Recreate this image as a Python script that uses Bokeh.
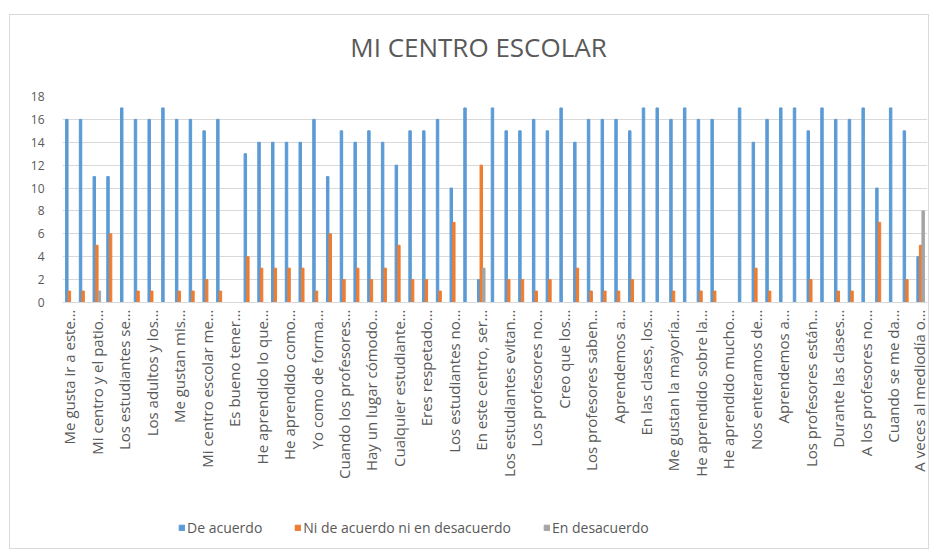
from math import pi
from bokeh.plotting import figure
from bokeh.layouts import column
from bokeh.models import (ColumnDataSource, FixedTicker, Legend, LegendItem,
                          Range1d, Label)
from bokeh.transform import dodge
from bokeh.embed import file_html
from bokeh.resources import INLINE

# 63 survey statements; only every other one is labelled on the axis
question_index = list(range(1, 64))
label_index = list(range(1, 64, 2))
shown_labels = [
    "Me gusta ir a este…", "Mi centro y el patio…", "Los estudiantes se…",
    "Los adultos y los…", "Me gustan mis…", "Mi centro escolar me…",
    "Es bueno tener…", "He aprendido lo que…", "He aprendido como…",
    "Yo como de forma…", "Cuando los profesores…", "Hay un lugar cómodo…",
    "Cualquier estudiante…", "Eres respetado…", "Los estudiantes no…",
    "En este centro, ser…", "Los estudiantes evitan…", "Los profesores no…",
    "Creo que los…", "Los profesores saben…", "Aprendemos a…",
    "En las clases, los…", "Me gustan la mayoría…", "He aprendido sobre la…",
    "He aprendido mucho…", "Nos enteramos de…", "Aprendemos a…",
    "Los profesores están…", "Durante las clases…", "A los profesores no…",
    "Cuando se me da…", "A veces al mediodía o…",
]

de_acuerdo = [16, 16, 11, 11, 17, 16, 16, 17, 16, 16, 15, 16, 0, 13, 14, 14,
              14, 14, 16, 11, 15, 14, 15, 14, 12, 15, 15, 16, 10, 17, 2, 17,
              15, 15, 16, 15, 17, 14, 16, 16, 16, 15, 17, 17, 16, 17, 16, 16,
              0, 17, 14, 16, 17, 17, 15, 17, 16, 16, 17, 10, 17, 15, 4]
ni_de_acuerdo = [1, 1, 5, 6, 0, 1, 1, 0, 1, 1, 2, 1, 0, 4, 3, 3,
                 3, 3, 1, 6, 2, 3, 2, 3, 5, 2, 2, 1, 7, 0, 12, 0,
                 2, 2, 1, 2, 0, 3, 1, 1, 1, 2, 0, 0, 1, 0, 1, 1,
                 0, 0, 3, 1, 0, 0, 2, 0, 1, 1, 0, 7, 0, 2, 5]
en_desacuerdo = [0, 0, 1, 0, 0, 0, 0, 0, 0, 0, 0, 0, 0, 0, 0, 0,
                 0, 0, 0, 0, 0, 0, 0, 0, 0, 0, 0, 0, 0, 0, 3, 0,
                 0, 0, 0, 0, 0, 0, 0, 0, 0, 0, 0, 0, 0, 0, 0, 0,
                 0, 0, 0, 0, 0, 0, 0, 0, 0, 0, 0, 0, 0, 0, 8]
series_names = ["De acuerdo", "Ni de acuerdo ni en desacuerdo", "En desacuerdo"]
chart_title = "MI CENTRO ESCOLAR"
y_ticks = list(range(0, 19, 2))

BLUE, ORANGE, GRAY = "#5B9BD5", "#ED7D31", "#A5A5A5"
COLORS = [BLUE, ORANGE, GRAY]
FIELDS = ["a", "n", "d"]
OFFSETS = [-0.185, 0.0, 0.185]
TXT = "#595959"
FONT = "Open Sans"
W = 918

src = ColumnDataSource(dict(q=question_index, a=de_acuerdo,
                            n=ni_de_acuerdo, d=en_desacuerdo))

# ---- title strip
pt = figure(width=W, height=71, x_range=Range1d(0, 1), y_range=Range1d(0, 1),
            x_axis_type=None, y_axis_type=None, output_backend="svg",
            toolbar_location=None, min_border=0)
pt.outline_line_color = None
pt.add_layout(Label(x=416, y=40, x_units="screen", y_units="screen",
                    text=chart_title, text_align="center",
                    text_baseline="middle", text_font=FONT,
                    text_font_size="26px", text_color=TXT))

# ---- main chart
p = figure(frame_width=865, frame_height=206, x_range=Range1d(0.5, 63.5),
           y_range=Range1d(0, 18), output_backend="svg",
           toolbar_location=None, min_border_left=52, min_border_right=1,
           min_border_top=10, min_border_bottom=200)
p.outline_line_color = None

for f, c, o in zip(FIELDS, COLORS, OFFSETS):
    p.vbar(x=dodge("q", o, range=p.x_range), top=f, width=0.18,
           source=src, color=c)

xa = p.below[0]
xa.ticker = FixedTicker(ticks=label_index)
xa.major_label_overrides = {i: t for i, t in zip(label_index, shown_labels)}
xa.major_label_orientation = pi / 2
xa.major_label_text_font = FONT
xa.major_label_text_font_size = "15px"
xa.major_label_text_color = TXT
xa.major_tick_line_color = None
xa.minor_tick_line_color = None
xa.major_tick_out = 0
xa.major_tick_in = 0
xa.major_label_standoff = 7
xa.axis_line_color = "#d9d9d9"

ya = p.left[0]
ya.ticker = FixedTicker(ticks=y_ticks)
ya.major_label_text_font = FONT
ya.major_label_text_font_size = "12px"
ya.major_label_text_color = TXT
ya.axis_line_color = None
ya.major_tick_line_color = None
ya.minor_tick_line_color = None
ya.major_tick_out = 0
ya.major_tick_in = 0
ya.major_label_standoff = 18

p.xgrid.grid_line_color = None
p.ygrid.grid_line_color = "#d9d9d9"
p.ygrid.ticker = FixedTicker(ticks=y_ticks)

# ---- legend strip (same series, drawn out of view; only the legend shows)
pl = figure(width=W, height=46, x_range=Range1d(0.5, 63.5),
            y_range=Range1d(100, 101), x_axis_type=None, y_axis_type=None,
            output_backend="svg", toolbar_location=None, min_border=0)
pl.outline_line_color = None
pl.grid.visible = False
items = []
for name, f, c, o in zip(series_names, FIELDS, COLORS, OFFSETS):
    r = pl.vbar(x=dodge("q", o, range=pl.x_range), top=f, width=0.18,
                source=src, color=c)
    items.append(LegendItem(label=name, renderers=[r]))
legend = Legend(items=items, orientation="horizontal", location=(116, 11),
                glyph_width=7, glyph_height=7, label_standoff=2, spacing=32,
                label_text_font=FONT, label_text_font_size="14px",
                label_text_color=TXT, border_line_color=None,
                background_fill_alpha=0, padding=0, margin=0)
pl.add_layout(legend, "center")

layout = column(pt, p, pl, spacing=0)
layout.styles = {"border": "1px solid #d9d9d9", "margin-top": "14px",
                 "margin-left": "9px", "background": "white"}

open("out.html", "w").write(file_html(layout, INLINE))
